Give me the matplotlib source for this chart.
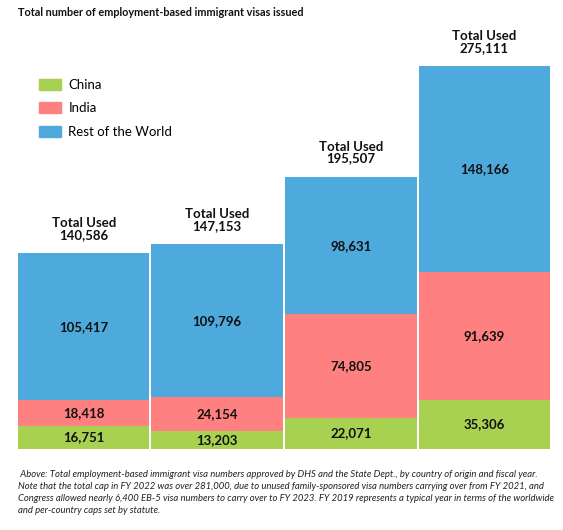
import matplotlib.pyplot as plt
from matplotlib.patches import Patch

plt.rcParams['font.family'] = ['Lato', 'DejaVu Sans']

years = ['FY 2019', 'FY 2020', 'FY 2021', 'FY 2022']
china = [16751, 13203, 22071, 35306]
india = [18418, 24154, 74805, 91639]
rest = [105417, 109796, 98631, 148166]
totals = [140586, 147153, 195507, 275111]

c_china = '#a8d152'
c_india = '#ff8080'
c_rest = '#4eaadd'

fig = plt.figure(figsize=(5.63, 5.30), dpi=100)
ax = fig.add_axes([0.030, 0.153, 0.949, 0.787])

x = range(len(years))
w = 0.985
ax.bar(x, china, width=w, color=c_china)
ax.bar(x, india, width=w, bottom=china, color=c_india)
base = [a + b for a, b in zip(china, india)]
ax.bar(x, rest, width=w, bottom=base, color=c_rest)

for i in x:
    ax.text(i, china[i] / 2, f'{china[i]:,}', ha='center', va='center',
            fontsize=9.5, fontweight='bold', color='#111111')
    ax.text(i, china[i] + india[i] / 2, f'{india[i]:,}', ha='center', va='center',
            fontsize=9.5, fontweight='bold', color='#111111')
    ax.text(i, base[i] + rest[i] / 2, f'{rest[i]:,}', ha='center', va='center',
            fontsize=9.5, fontweight='bold', color='#111111')
    ax.text(i, totals[i] + 9000, f'Total Used\n{totals[i]:,}', ha='center', va='bottom',
            fontsize=9.5, fontweight='bold', color='#111111', linespacing=0.95)

ax.set_xlim(-0.5, 3.5)
ax.set_ylim(0, 300000)
ax.axis('off')

handles = [Patch(color=c_china, label='China'),
           Patch(color=c_india, label='India'),
           Patch(color=c_rest, label='Rest of the World')]
ax.legend(handles=handles, loc='upper left', bbox_to_anchor=(0.02, 0.915),
          frameon=False, fontsize=9.5, handlelength=1.6, handleheight=0.9,
          handletextpad=0.6, labelspacing=0.85)

fig.text(0.032, 0.977, 'Total number of employment-based immigrant visas issued',
         fontsize=7.8, fontweight='bold', va='center', color='#111111')

caption = (' Above: Total employment-based immigrant visa numbers approved by DHS and the State Dept., by country of origin and fiscal year.\n'
           'Note that the total cap in FY 2022 was over 281,000, due to unused family-sponsored visa numbers carrying over from FY 2021, and\n'
           'Congress allowed nearly 6,400 EB-5 visa numbers to carry over to FY 2023. FY 2019 represents a typical year in terms of the worldwide\n'
           'and per-country caps set by statute.')
fig.text(0.032, 0.113, caption, fontsize=6.85, style='italic', va='top',
         color='#222222', linespacing=1.42)

fig.savefig('out.png', dpi=100)
